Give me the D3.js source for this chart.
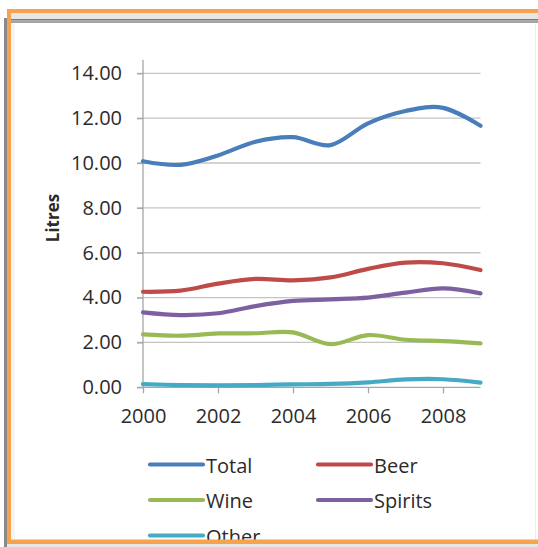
<!DOCTYPE html>
<html>
<head>
<meta charset="utf-8">
<script src="https://cdn.jsdelivr.net/npm/d3@7"></script>
<style>
  html, body { margin: 0; padding: 0; background: #ffffff; }
  svg { display: block; }
  text { font-family: "Open Sans", "Noto Sans", sans-serif; fill: #2b2b2b; }
</style>
</head>
<body>
<svg id="chart" width="538" height="547"></svg>
<script>
// Per-capita consumption, litres of pure alcohol
const years = [2000, 2001, 2002, 2003, 2004, 2005, 2006, 2007, 2008, 2009];
const total   = [10.08, 9.92, 10.34, 10.95, 11.15, 10.80, 11.77, 12.32, 12.46, 11.66];
const beer    = [4.26, 4.31, 4.62, 4.83, 4.77, 4.90, 5.28, 5.56, 5.53, 5.23];
const wine    = [2.36, 2.30, 2.40, 2.41, 2.45, 1.92, 2.33, 2.12, 2.06, 1.96];
const spirits = [3.34, 3.22, 3.30, 3.62, 3.85, 3.92, 4.00, 4.22, 4.41, 4.19];
const other   = [0.14, 0.10, 0.09, 0.10, 0.13, 0.15, 0.22, 0.35, 0.36, 0.21];

const seriesNames  = ["Total", "Beer", "Wine", "Spirits", "Other"];
const seriesValues = [total, beer, wine, spirits, other];
const seriesColors = ["#4a7ebb", "#be4b48", "#98b954", "#7d60a0", "#46aac5"];

const yTicks = [0, 2, 4, 6, 8, 10, 12, 14];
const xTicks = [2000, 2002, 2004, 2006, 2008];
const yTitle = "Litres";

const svg = d3.select("#chart");

// Scales
const x = d3.scaleLinear().domain([2000, 2009]).range([143, 480.5]);
const y = d3.scaleLinear().domain([0, 14]).range([387.3, 73.3]);

// Horizontal gridlines
svg.append("g")
  .selectAll("line")
  .data(yTicks.filter(d => d > 0))
  .join("line")
  .attr("x1", 137).attr("x2", x(2009))
  .attr("y1", d => y(d)).attr("y2", d => y(d))
  .attr("stroke", "#c4c4c4").attr("stroke-width", 1.3);

// Y axis
const yAxis = d3.axisLeft(y).tickValues(yTicks).tickFormat(d3.format(".2f"))
  .tickSize(6).tickPadding(15);
const gy = svg.append("g").attr("transform", `translate(${x(2000)},0)`).call(yAxis);
gy.select(".domain").remove();
gy.selectAll(".tick line").attr("stroke", "#a6a6a6").attr("stroke-width", 1.3);
gy.selectAll(".tick text").attr("font-size", 20).attr("fill", "#2b2b2b")
  .style("font-family", "'Open Sans', sans-serif");
svg.append("line")
  .attr("x1", x(2000)).attr("x2", x(2000))
  .attr("y1", y(14.6)).attr("y2", y(0))
  .attr("stroke", "#a6a6a6").attr("stroke-width", 1.3);

// X axis
const xAxis = d3.axisBottom(x).tickValues(xTicks).tickFormat(d3.format("d"))
  .tickSize(6).tickPadding(16);
const gx = svg.append("g").attr("transform", `translate(0,${y(0)})`).call(xAxis);
gx.select(".domain").attr("stroke", "#a6a6a6").attr("stroke-width", 1.3)
  .attr("d", `M${x(2000) - 6},0H${x(2009)}`);
gx.selectAll(".tick line").attr("stroke", "#a6a6a6").attr("stroke-width", 1.3);
gx.selectAll(".tick text").attr("font-size", 20).attr("fill", "#2b2b2b")
  .style("font-family", "'Open Sans', sans-serif");

// Y axis title
svg.append("text")
  .attr("transform", "translate(59,218) rotate(-90)")
  .attr("text-anchor", "middle")
  .attr("font-size", 17).attr("font-weight", "bold")
  .text(yTitle);

// Smoothed series lines
const line = d3.line()
  .x((d, i) => x(years[i]))
  .y(d => y(d))
  .curve(d3.curveCardinal.tension(0));

svg.append("g")
  .selectAll("path")
  .data(seriesValues)
  .join("path")
  .attr("d", d => line(d))
  .attr("fill", "none")
  .attr("stroke", (d, i) => seriesColors[i])
  .attr("stroke-width", 4.2)
  .attr("stroke-linecap", "round")
  .attr("stroke-linejoin", "round");

// Legend: two columns, three rows
const legend = svg.append("g");
const items = legend.selectAll("g")
  .data(seriesNames)
  .join("g")
  .attr("transform", (d, i) => `translate(${i % 2 === 0 ? 150 : 318},${464.5 + Math.floor(i / 2) * 35.5})`);
items.append("line")
  .attr("x1", 0).attr("x2", 53).attr("y1", 0).attr("y2", 0)
  .attr("stroke", (d, i) => seriesColors[i])
  .attr("stroke-width", 4.2).attr("stroke-linecap", "round");
items.append("text")
  .attr("x", 56).attr("y", 8)
  .attr("font-size", 20)
  .text(d => d);

// Window frame around the chart
const frame = svg.append("g");
frame.append("rect").attr("x", 7).attr("y", 13).attr("width", 531).attr("height", 6).attr("fill", "#e6e6e6");
frame.append("rect").attr("x", 4).attr("y", 19).attr("width", 534).attr("height", 1.6).attr("fill", "#7a7a7a");
frame.append("rect").attr("x", 4).attr("y", 21.2).attr("width", 534).attr("height", 1.6).attr("fill", "#8e8e8e");
frame.append("rect").attr("x", 4).attr("y", 18).attr("width", 3).attr("height", 529).attr("fill", "#8a8a8a");
frame.append("rect").attr("x", 535).attr("y", 24).attr("width", 1).attr("height", 515).attr("fill", "#ececec");
frame.append("rect").attr("x", 11).attr("y", 23).attr("width", 4).attr("height", 516).attr("fill", "#f2f2f2").attr("opacity", 0.8);
frame.append("rect").attr("x", 7).attr("y", 544).attr("width", 531).attr("height", 3).attr("fill", "#e4e4e4").attr("opacity", 0.9);
frame.append("rect").attr("x", 7).attr("y", 9).attr("width", 531).attr("height", 4).attr("fill", "#f7a24f");
frame.append("rect").attr("x", 7).attr("y", 9).attr("width", 4).attr("height", 535).attr("fill", "#f7a24f");
frame.append("rect").attr("x", 7).attr("y", 539.5).attr("width", 531).attr("height", 4.5).attr("fill", "#f7a24f");
</script>
</body>
</html>
